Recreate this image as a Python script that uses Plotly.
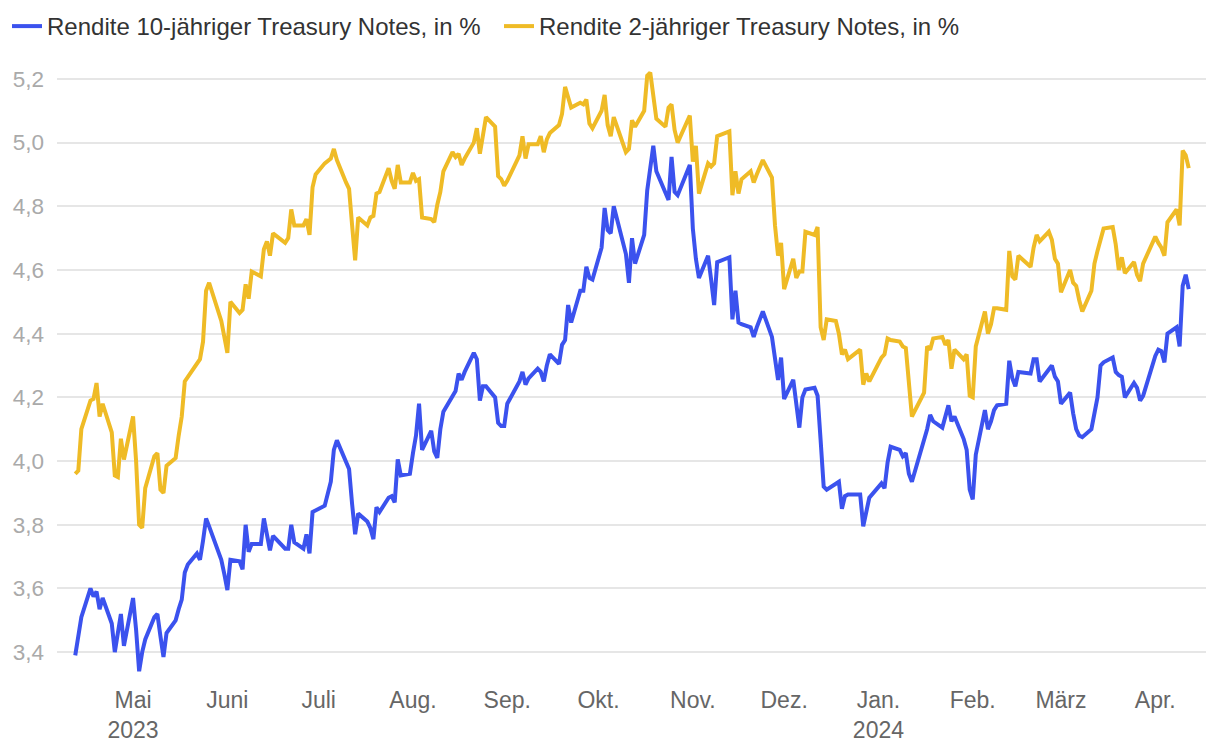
import pandas as pd
import plotly.graph_objects as go

# US bond market trading days, 12 Apr 2023 - 12 Apr 2024 (holidays skipped)
start_date = "2023-04-12"
end_date = "2024-04-12"
market_holidays = ["2023-05-29", "2023-06-19", "2023-07-04", "2023-09-04", "2023-10-09",
                   "2023-11-10", "2023-11-23", "2023-12-25", "2024-01-01", "2024-01-15",
                   "2024-02-19", "2024-03-29"]

# Rendite 10-jähriger Treasury Notes, in %
ten_year = [
    3.39, 3.45, 3.51, 3.60, 3.575, 3.59, 3.535, 3.57, 3.49, 3.40, 3.46, 3.52, 3.42,  # Apr 23
    3.57, 3.47, 3.34, 3.40, 3.44, 3.51, 3.52, 3.45, 3.385, 3.46, 3.50, 3.535, 3.565, 3.65, 3.675,
    3.71, 3.69, 3.75, 3.82, 3.795, 3.69, 3.645,  # May
    3.595, 3.69, 3.685, 3.66, 3.80, 3.715, 3.74, 3.74, 3.82, 3.77, 3.72, 3.765, 3.725, 3.725,
    3.80, 3.745, 3.725, 3.77, 3.71, 3.84, 3.845,  # Jun
    3.86, 3.935, 4.035, 4.065, 3.995, 3.975, 3.865, 3.77, 3.835, 3.81, 3.79, 3.755, 3.855, 3.84,
    3.885, 3.89, 3.87, 4.005, 3.955, 3.96,  # Jul
    4.025, 4.08, 4.18, 4.035, 4.095, 4.03, 4.01, 4.10, 4.155, 4.20, 4.22, 4.275, 4.255, 4.28,
    4.34, 4.32, 4.19, 4.235, 4.235, 4.20, 4.12, 4.11, 4.11,  # Aug
    4.18, 4.25, 4.28, 4.24, 4.26, 4.29, 4.28, 4.25, 4.30, 4.335, 4.305, 4.365, 4.38, 4.49, 4.435,
    4.535, 4.535, 4.61, 4.575, 4.57,  # Sep
    4.67, 4.795, 4.725, 4.715, 4.80, 4.65, 4.56, 4.70, 4.62, 4.71, 4.85, 4.92, 4.99, 4.91, 4.84,
    4.82, 4.955, 4.845, 4.835, 4.905, 4.93,  # Oct
    4.73, 4.635, 4.575, 4.645, 4.57, 4.49, 4.625, 4.64, 4.445, 4.535, 4.435, 4.43, 4.42, 4.39,
    4.42, 4.47, 4.39, 4.33, 4.255, 4.325,  # Nov
    4.195, 4.255, 4.18, 4.105, 4.20, 4.225, 4.23, 4.205, 4.065, 3.92, 3.91, 3.93, 3.935, 3.85,
    3.89, 3.895, 3.895, 3.795, 3.845, 3.885,  # Dec
    3.93, 3.915, 3.995, 4.045, 4.035, 4.015, 4.025, 3.96, 3.935, 4.06, 4.10, 4.145, 4.125, 4.105,
    4.14, 4.175, 4.125, 4.14, 4.07, 4.035, 3.91,  # Jan 24
    3.88, 4.02, 4.16, 4.10, 4.125, 4.16, 4.175, 4.18, 4.315, 4.26, 4.235, 4.28, 4.275, 4.32,
    4.32, 4.25, 4.29, 4.30, 4.265, 4.25,  # Feb
    4.18, 4.215, 4.15, 4.10, 4.08, 4.075, 4.10, 4.16, 4.20, 4.30, 4.31, 4.325, 4.28, 4.27,
    4.265, 4.20, 4.245, 4.23, 4.19, 4.205,  # Mar
    4.33, 4.35, 4.345, 4.31, 4.40, 4.42, 4.36, 4.55, 4.585, 4.54,  # Apr 24
]

# Rendite 2-jähriger Treasury Notes, in %
two_year = [
    3.96, 3.97, 4.10, 4.19, 4.195, 4.245, 4.14, 4.18, 4.09, 3.955, 3.95, 4.07, 4.005,  # Apr 23
    4.14, 4.00, 3.80, 3.79, 3.915, 4.015, 4.025, 3.91, 3.90, 3.985, 4.01, 4.08, 4.14, 4.25, 4.265,
    4.31, 4.32, 4.375, 4.535, 4.56, 4.44, 4.39,  # May
    4.34, 4.50, 4.465, 4.475, 4.555, 4.51, 4.595, 4.58, 4.665, 4.69, 4.645, 4.715, 4.685, 4.70,
    4.79, 4.74, 4.74, 4.76, 4.71, 4.86, 4.90,  # Jun
    4.935, 4.95, 4.98, 4.945, 4.875, 4.855, 4.74, 4.63, 4.765, 4.74, 4.765, 4.77, 4.84, 4.845,
    4.92, 4.88, 4.855, 4.93, 4.875, 4.875,  # Jul
    4.905, 4.88, 4.885, 4.765, 4.76, 4.75, 4.805, 4.845, 4.91, 4.97, 4.955, 4.965, 4.93, 4.95,
    5.00, 5.045, 4.965, 5.025, 5.08, 5.05, 4.895, 4.885, 4.865,  # Aug
    4.88, 4.96, 5.02, 4.95, 4.995, 4.995, 5.02, 4.97, 5.01, 5.03, 5.055, 5.09, 5.175, 5.14, 5.11,
    5.125, 5.12, 5.135, 5.06, 5.045,  # Sep
    5.10, 5.15, 5.055, 5.02, 5.08, 4.97, 4.98, 5.07, 5.05, 5.10, 5.21, 5.22, 5.15, 5.075, 5.05,
    5.11, 5.12, 5.04, 5.00, 5.065, 5.085,  # Oct
    4.94, 4.99, 4.84, 4.935, 4.925, 4.935, 5.02, 5.035, 4.835, 4.91, 4.84, 4.885, 4.91, 4.875,
    4.90, 4.945, 4.89, 4.74, 4.645, 4.685,  # Nov
    4.54, 4.635, 4.575, 4.595, 4.595, 4.72, 4.71, 4.735, 4.42, 4.38, 4.445, 4.44, 4.40, 4.335,
    4.35, 4.32, 4.35, 4.24, 4.275, 4.25,  # Dec
    4.325, 4.335, 4.385, 4.38, 4.375, 4.36, 4.355, 4.25, 4.14, 4.215, 4.36, 4.35, 4.385, 4.39,
    4.365, 4.38, 4.29, 4.35, 4.32, 4.335, 4.205,  # Jan 24
    4.20, 4.36, 4.47, 4.40, 4.43, 4.48, 4.48, 4.475, 4.66, 4.58, 4.57, 4.645, 4.61, 4.67, 4.71,
    4.69, 4.72, 4.695, 4.635, 4.62,  # Feb
    4.53, 4.60, 4.56, 4.55, 4.505, 4.47, 4.535, 4.62, 4.66, 4.695, 4.73, 4.735, 4.68, 4.60, 4.64,
    4.59, 4.625, 4.585, 4.565, 4.62,  # Mar
    4.705, 4.685, 4.67, 4.645, 4.75, 4.79, 4.74, 4.975, 4.96, 4.92,  # Apr 24
]

series_names = ["Rendite 10-jähriger Treasury Notes, in %",
                "Rendite 2-jähriger Treasury Notes, in %"]

month_ticks = ["2023-05-01", "2023-06-01", "2023-07-01", "2023-08-01", "2023-09-01",
               "2023-10-01", "2023-11-01", "2023-12-01", "2024-01-01", "2024-02-01",
               "2024-03-01", "2024-04-01"]
month_labels = ["Mai<br>2023", "Juni", "Juli", "Aug.", "Sep.", "Okt.", "Nov.", "Dez.",
                "Jan.<br>2024", "Feb.", "März", "Apr."]

y_ticks = [3.4, 3.6, 3.8, 4.0, 4.2, 4.4, 4.6, 4.8, 5.0, 5.2]

dates = pd.bdate_range(start_date, end_date)
dates = dates[~dates.isin(pd.to_datetime(market_holidays))]
n = min(len(dates), len(ten_year), len(two_year))

BLUE = "#3b52ee"
YELLOW = "#efbb26"
FONT = "Liberation Sans, Arial, Helvetica, sans-serif"

fig = go.Figure()
fig.add_trace(go.Scatter(x=dates[:n], y=ten_year[:n], mode="lines", name=series_names[0],
                         line=dict(color=BLUE, width=4), legend="legend"))
fig.add_trace(go.Scatter(x=dates[:n], y=two_year[:n], mode="lines", name=series_names[1],
                         line=dict(color=YELLOW, width=4), legend="legend2"))

legend_style = dict(orientation="h", xanchor="left", yanchor="top", yref="paper", xref="paper",
                    y=1.095, font=dict(size=24, color="#333333"), itemwidth=30,
                    bgcolor="rgba(0,0,0,0)")

# the page body has an 8px margin, so the figure is sized 1212x742 to fill the window
fig.update_layout(
    width=1212, height=742,
    margin=dict(l=49, r=14, t=55, b=66, autoexpand=False),
    paper_bgcolor="white", plot_bgcolor="white",
    separators=", ",
    font=dict(family=FONT, size=22, color="#333333"),
    showlegend=True,
    legend=dict(legend_style, x=-0.0435),
    legend2=dict(legend_style, x=0.3847),
    hovermode=False,
)
fig.update_xaxes(
    type="date", range=["2023-04-06", "2024-04-17 16:00"], automargin=False,
    tickmode="array", tickvals=month_ticks, ticktext=month_labels,
    showgrid=False, zeroline=False, showline=False, ticks="",
    tickfont=dict(size=23, color="#666666"),
)
fig.update_yaxes(
    range=[3.3, 5.25], tickmode="array", tickvals=y_ticks, tickformat=".1f", automargin=False,
    showgrid=True, gridcolor="#e6e6e6", gridwidth=2, zeroline=False, showline=False,
    ticks="", ticklabelstandoff=12,
    tickfont=dict(size=22.5, color="#aaaaaa"),
)

fig.write_html("out.html")
